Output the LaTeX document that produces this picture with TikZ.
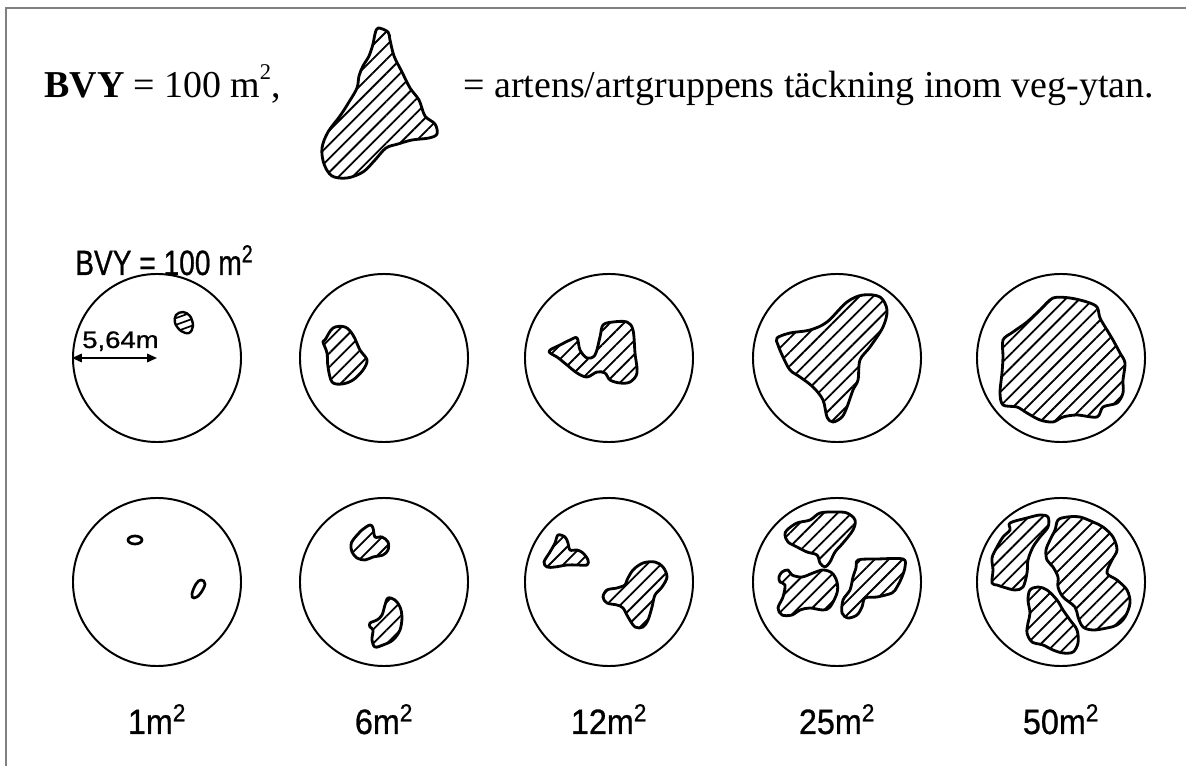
\documentclass[tikz,border=0pt]{standalone}
\usepackage{fontspec}
\setmainfont{Liberation Serif}
\newfontfamily\letterfont[FakeBold=0.8]{Liberation Sans}
\usepackage{graphicx}
\usetikzlibrary{arrows.meta, patterns.meta}
\definecolor{framegray}{RGB}{128,128,128}
\tikzset{
  plotcircle/.style={
    circle, draw, line width=1.4pt, minimum size=4.2cm, inner sep=0pt
  },
  cover/.style={
    draw, line width=2pt, line join=round,
    pattern={Lines[angle=45, distance=7pt, line width=1.3pt]}
  },
  speck/.style={draw, line width=1.9pt},
  arealabel/.style={font=\letterfont\fontsize{25}{28}\selectfont, inner sep=0pt, anchor=base},
  headtext/.style={font=\fontsize{27}{30}\selectfont, inner sep=0pt, anchor=base west},
  dimarrow/.style={{Triangle[length=7pt,width=6pt]}-{Triangle[length=7pt,width=6pt]}, line width=1.3pt}
}
\begin{document}
\begin{tikzpicture}[x=0.025cm, y=-0.025cm]
  \useasboundingbox (0,0) rectangle (1186,766);
  \draw[framegray, line width=0.9pt] (6,766) -- (6,8) -- (1186,8);

  % legend
  \node[headtext] (head) at (44,98)
    {\spaceskip=6.5pt plus 1pt \textbf{BVY} = 100 m\raisebox{0.5em}{\fontsize{16}{16}\selectfont 2},};
  \draw[cover] plot[smooth cycle, tension=0.55] coordinates {
    (378,28) (388,32) (390,40) (394,56) (402,72) (410,88) (419,100) (425,116)
    (435,124) (437,134) (429,138) (412,140) (398,144) (386,148) (375,160)
    (363,172) (347,178) (332,176) (324,164) (322,148) (328,132) (340,116)
    (349,102) (357,88) (359,76) (363,66) (369,56) (373,44) (375,34)};
  \node[headtext] (legend) at (463,98)
    {= artens/artgruppens täckning inom veg-ytan.};

  \node[inner sep=0pt, anchor=base west] (bvy) at (75,275)
    {\letterfont\fontsize{25}{28}\selectfont\scalebox{0.8}[1]{BVY = 100 m\textsuperscript{2}}};

  % circles and area labels
  \foreach \x/\area [count=\i] in {157/1,384/6,609/12,837/25,1061/50} {
    \node[plotcircle] (top\i) at (\x,358) {};
    \node[plotcircle] (bot\i) at (\x,582) {};
    \node[arealabel] (lab\i) at (\x,734) {\scalebox{0.92}[1]{\area m\textsuperscript{2}}};
  }

  \draw[dimarrow] (top1.west) -- (top1.center);
  \node[inner sep=0pt, anchor=base west] (radius) at (82,348)
    {\letterfont\fontsize{17}{18}\selectfont\scalebox{1.15}[1]{5,64m}};

  % upper row
  \draw[cover, line width=1.7pt, pattern={Lines[angle=20, distance=4.5pt, line width=1.2pt]}]
    plot[smooth cycle, tension=0.6] coordinates {
    (176,315) (183,312) (190,316) (193,326) (189,333) (181,331) (175,323)};
  \draw[cover] plot[smooth cycle, tension=0.55] coordinates {
    (325,340) (333,328) (345,327) (353,335) (360,350) (367,360) (363,370)
    (353,380) (342,384) (332,382) (328,367) (327,353) (323,342)};
  \draw[cover] plot[smooth cycle, tension=0.55] coordinates {
    (550,350) (560,345) (570,340) (577,338) (580,350) (587,358) (595,355)
    (600,337) (603,325) (613,322) (627,322) (633,330) (635,353) (637,373)
    (630,382) (620,383) (610,380) (605,373) (597,372) (587,377) (577,373)
    (567,365) (557,357) (550,353)};
  \draw[cover] plot[smooth cycle, tension=0.55] coordinates {
    (777,338) (790,333) (810,330) (827,322) (847,302) (863,295) (880,297)
    (887,310) (883,327) (870,347) (860,360) (858,380) (853,390) (847,407)
    (842,417) (833,422) (827,417) (823,400) (813,387) (800,377) (790,370)
    (783,357) (778,345)};
  \draw[cover] plot[smooth cycle, tension=0.5] coordinates {
    (1003,340) (1013,332) (1027,322) (1040,310) (1053,298) (1070,298)
    (1087,302) (1097,307) (1100,318) (1107,330) (1113,340) (1120,353)
    (1125,363) (1123,380) (1123,393) (1117,403) (1103,407) (1097,417)
    (1077,415) (1063,417) (1053,422) (1040,420) (1027,413) (1017,407)
    (1003,405) (1000,393) (1002,373) (1003,357)};

  % lower row
  \draw[speck] (135,540) ellipse [x radius=7, y radius=4];
  \draw[speck] plot[smooth cycle, tension=0.7] coordinates {
    (201,580) (205,584) (200,594) (194,598) (192,594) (196,584)};
  \draw[cover] plot[smooth cycle, tension=0.55] coordinates {
    (353,540) (362,530) (370,525) (373,528) (375,537) (382,537) (388,542)
    (388,550) (383,555) (373,557) (365,560) (357,558) (352,552) (351,545)};
  \draw[cover] plot[smooth cycle, tension=0.55] coordinates {
    (370,623) (377,620) (382,615) (385,605) (388,598) (395,600) (400,607)
    (402,617) (400,630) (393,640) (383,645) (375,647) (372,640) (373,630)
    (370,627)};
  \draw[cover] plot[smooth cycle, tension=0.55] coordinates {
    (558,535) (565,537) (568,543) (570,550) (577,550) (583,553) (588,560)
    (587,565) (577,565) (567,565) (555,567) (547,567) (544,562) (550,552)
    (555,543)};
  \draw[cover] plot[smooth cycle, tension=0.55] coordinates {
    (627,580) (633,570) (643,563) (655,562) (663,567) (667,577) (662,587)
    (655,595) (652,607) (648,620) (643,627) (635,627) (628,617) (623,608)
    (617,605) (607,603) (603,597) (607,590) (617,588) (625,585)};
  \draw[cover] plot[smooth cycle, tension=0.55] coordinates {
    (787,530) (797,523) (810,520) (820,513) (835,512) (847,513) (855,520)
    (853,530) (843,543) (835,552) (830,562) (825,567) (820,563) (817,555)
    (807,552) (797,547) (788,542) (785,535)};
  \draw[cover] plot[smooth cycle, tension=0.55] coordinates {
    (782,572) (788,570) (792,575) (802,577) (813,573) (823,570) (832,573)
    (837,582) (837,593) (830,607) (823,610) (810,608) (800,610) (792,615)
    (782,615) (778,608) (783,597) (785,585) (780,582) (779,577)};
  \draw[cover] plot[smooth cycle, tension=0.5] coordinates {
    (858,560) (877,559) (903,559) (905,567) (902,577) (897,587) (892,593)
    (877,597) (865,598) (862,607) (857,615) (848,618) (842,613) (843,600)
    (850,590) (853,577) (856,568)};
  \draw[cover] plot[smooth cycle, tension=0.55] coordinates {
    (1010,523) (1027,518) (1040,515) (1048,517) (1048,527) (1040,537)
    (1033,547) (1028,560) (1027,573) (1023,587) (1015,590) (1003,587)
    (997,585) (992,583) (993,570) (992,558) (997,547) (1003,537) (1010,530)};
  \draw[cover] plot[smooth cycle, tension=0.55] coordinates {
    (1058,520) (1067,517) (1080,517) (1093,522) (1103,527) (1113,537)
    (1117,550) (1112,560) (1107,573) (1117,580) (1127,590) (1130,603)
    (1125,617) (1117,625) (1107,628) (1093,630) (1083,627) (1078,617)
    (1075,607) (1063,597) (1058,587) (1058,577) (1053,567) (1047,560)
    (1046,550) (1050,540) (1055,530)};
  \draw[cover] plot[smooth cycle, tension=0.55] coordinates {
    (1030,590) (1038,587) (1047,590) (1057,600) (1063,610) (1070,620)
    (1077,630) (1078,643) (1073,652) (1063,653) (1053,650) (1043,645)
    (1032,642) (1027,633) (1028,623) (1030,613) (1028,600)};
\end{tikzpicture}
\end{document}
